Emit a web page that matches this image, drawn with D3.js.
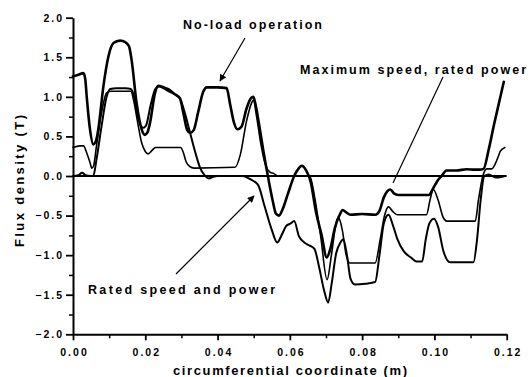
<!DOCTYPE html>
<html>
<head>
<meta charset="utf-8">
<script src="https://cdn.jsdelivr.net/npm/d3@7"></script>
<style>
  html, body { margin: 0; padding: 0; background: #fff; }
  svg { display: block; }
  text { font-family: 'Liberation Sans', Arial, sans-serif; fill: #000; }
</style>
</head>
<body>
<script>
// Axis ticks
const xTicks = [0, 0.02, 0.04, 0.06, 0.08, 0.10, 0.12]
const xMinorTicks = [0.01, 0.03, 0.05, 0.07, 0.09, 0.11]
const yTicks = [-2.0, -1.5, -1.0, -0.5, 0.0, 0.5, 1.0, 1.5, 2.0]
const yMinorTicks = [-1.75, -1.25, -0.75, -0.25, 0.25, 0.75, 1.25, 1.75]

// Traces: [circumferential coordinate (m), flux density (T)]
// thick trace (no-load)
const traceA = [[0, 1.26], [0.0015, 1.28], [0.0029, 1.30], [0.0034, 1.22], [0.0038, 1.0], [0.0047, 0.59], [0.0056, 0.40], [0.0064, 0.45], [0.0070, 0.59], [0.0084, 1.13], [0.0098, 1.51], [0.0112, 1.68], [0.0130, 1.71], [0.0145, 1.69], [0.0155, 1.64], [0.0162, 1.47], [0.0176, 0.92], [0.0190, 0.59], [0.0199, 0.52], [0.0206, 0.55], [0.0213, 0.67], [0.0227, 1.05], [0.0236, 1.14], [0.0250, 1.12], [0.0262, 1.10], [0.0280, 1.04], [0.0296, 0.98], [0.0306, 0.78], [0.0316, 0.58], [0.0324, 0.545], [0.0334, 0.58], [0.0346, 0.8], [0.0360, 1.06], [0.0370, 1.12], [0.0400, 1.12], [0.0425, 1.11], [0.0435, 0.9], [0.0445, 0.68], [0.0455, 0.59], [0.0466, 0.62], [0.0480, 0.85], [0.0492, 0.98], [0.0499, 1.0], [0.0506, 0.88], [0.0516, 0.62], [0.0527, 0.31], [0.0540, -0.02], [0.0552, -0.3], [0.0562, -0.48], [0.0570, -0.50], [0.0580, -0.42], [0.0595, -0.22], [0.0612, 0.0], [0.0625, 0.1], [0.0633, 0.13], [0.0645, 0.07], [0.0658, -0.08], [0.0672, -0.45], [0.0688, -0.75], [0.0702, -1.03], [0.0712, -0.92], [0.0725, -0.65], [0.0737, -0.5], [0.0746, -0.43], [0.0756, -0.46], [0.0768, -0.49], [0.0800, -0.48], [0.0836, -0.49], [0.0848, -0.44], [0.0860, -0.27], [0.0870, -0.19], [0.0878, -0.17], [0.0888, -0.22], [0.0900, -0.24], [0.0950, -0.24], [0.0985, -0.24], [0.0996, -0.16], [0.1010, -0.05], [0.1020, 0.0], [0.1033, 0.07], [0.1060, 0.07], [0.1090, 0.085], [0.1110, 0.08], [0.1125, 0.08], [0.1136, 0.09], [0.1150, 0.33], [0.1165, 0.65], [0.1180, 0.95], [0.1192, 1.19]]

// trace that lies on the zero line near 0.04 m, then dips deepest
const traceB = [[0, 0.0], [0.0015, 0.01], [0.0025, 0.04], [0.0035, 0.01], [0.0048, 0.0], [0.0056, 0.0], [0.0065, 0.21], [0.0079, 0.63], [0.0093, 1.0], [0.0103, 1.1], [0.0120, 1.11], [0.0145, 1.11], [0.0160, 1.10], [0.0168, 1.02], [0.0178, 0.78], [0.0188, 0.63], [0.0195, 0.61], [0.0203, 0.65], [0.0215, 0.9], [0.0228, 1.1], [0.0238, 1.13], [0.0250, 1.11], [0.0265, 1.07], [0.0285, 1.02], [0.0296, 0.98], [0.0308, 0.82], [0.0322, 0.58], [0.0337, 0.32], [0.0352, 0.1], [0.0364, 0.01], [0.0376, -0.03], [0.0388, -0.01], [0.0400, 0.0], [0.0470, 0.0], [0.0482, -0.02], [0.0494, -0.05], [0.0505, -0.08], [0.0513, -0.12], [0.0530, -0.38], [0.0550, -0.68], [0.0565, -0.84], [0.0578, -0.74], [0.0590, -0.63], [0.0602, -0.6], [0.0612, -0.57], [0.0625, -0.76], [0.0640, -0.84], [0.0655, -0.88], [0.0668, -0.92], [0.0680, -1.13], [0.0695, -1.45], [0.0706, -1.6], [0.0716, -1.35], [0.0728, -0.98], [0.0740, -0.84], [0.0748, -0.8], [0.0758, -1.0], [0.0768, -1.3], [0.0780, -1.37], [0.0810, -1.36], [0.0836, -1.34], [0.0848, -1.0], [0.0860, -0.6], [0.0873, -0.49], [0.0885, -0.62], [0.0897, -0.79], [0.0915, -0.95], [0.0935, -1.03], [0.0951, -1.08], [0.0966, -1.08], [0.0976, -0.8], [0.0986, -0.6], [0.0999, -0.54], [0.1010, -0.64], [0.1025, -0.95], [0.1043, -1.09], [0.1108, -1.09], [0.1118, -0.8], [0.1128, -0.3], [0.1138, 0.0], [0.1150, 0.02], [0.1170, -0.02], [0.1195, 0.0]]

// trace with the low 0.1 T plateau
const traceC = [[0, 0.36], [0.0019, 0.38], [0.0029, 0.38], [0.0038, 0.29], [0.0047, 0.17], [0.0052, 0.1], [0.0057, 0.13], [0.0065, 0.38], [0.0079, 0.8], [0.0093, 1.05], [0.0105, 1.07], [0.0160, 1.07], [0.0168, 0.95], [0.0178, 0.7], [0.0190, 0.42], [0.0200, 0.31], [0.0208, 0.28], [0.0218, 0.32], [0.0228, 0.36], [0.0298, 0.36], [0.0305, 0.3], [0.0313, 0.18], [0.0323, 0.12], [0.0335, 0.1], [0.0448, 0.11], [0.0463, 0.27], [0.0480, 0.69], [0.0494, 0.92], [0.0499, 0.96], [0.0508, 0.75], [0.0520, 0.4], [0.0532, 0.15], [0.0545, 0.05], [0.0556, 0.03], [0.0566, 0.0], [0.0655, 0.0], [0.0668, -0.25], [0.0685, -0.75], [0.0703, -1.31], [0.0715, -1.0], [0.0727, -0.62], [0.0734, -0.52], [0.0745, -0.68], [0.0756, -1.0], [0.0766, -1.1], [0.0836, -1.1], [0.0850, -0.8], [0.0862, -0.5], [0.0873, -0.39], [0.0885, -0.45], [0.0897, -0.49], [0.0978, -0.49], [0.0988, -0.3], [0.0997, -0.17], [0.1010, -0.3], [0.1024, -0.52], [0.1034, -0.57], [0.1113, -0.57], [0.1122, -0.3], [0.1134, 0.0], [0.1145, 0.09], [0.1159, 0.09], [0.1168, 0.15], [0.1177, 0.25], [0.1182, 0.31], [0.1195, 0.36]]

const xTitle = 'circumferential coordinate (m)'
const yTitle = 'Flux density (T)'

const width = 532
const height = 377
const margins = { left: 73, right: 25.3, top: 17.7, bottom: 42.7 }

const xScale = d3.scaleLinear()
  .domain([0, 0.12])
  .range([margins.left, width - margins.right])

const yScale = d3.scaleLinear()
  .domain([-2, 2])
  .range([height - margins.bottom, margins.top])

const svg = d3.select('body').append('svg')
  .attr('width', width)
  .attr('height', height)
  .attr('viewBox', [0, 0, width, height].join(' '))

// arrow head marker
svg.append('defs').append('marker')
  .attr('id', 'head')
  .attr('viewBox', '0 0 10 10')
  .attr('refX', 9)
  .attr('refY', 5)
  .attr('markerWidth', 9)
  .attr('markerHeight', 7)
  .attr('markerUnits', 'userSpaceOnUse')
  .attr('orient', 'auto')
  .append('path')
  .attr('d', 'M0,0 L10,5 L0,10 Z')
  .attr('fill', '#000')

const styleAxis = (g) => {
  g.select('.domain').attr('stroke', '#000').attr('stroke-width', 2)
  g.selectAll('.tick line').attr('stroke', '#000').attr('stroke-width', 1.8)
  g.selectAll('.tick text')
    .style('font-size', '10.5px')
    .style('font-weight', 'bold')
    .style('letter-spacing', '2px')
}

// Y axis
svg.append('g')
  .attr('transform', `translate(${margins.left}, 0)`)
  .call(d3.axisLeft(yScale).tickValues(yMinorTicks).tickSize(4).tickFormat(''))
  .call(g => g.select('.domain').remove())
  .call(g => g.selectAll('line').attr('stroke', '#000').attr('stroke-width', 1.5))

svg.append('g')
  .attr('transform', `translate(${margins.left}, 0)`)
  .call(d3.axisLeft(yScale).tickValues(yTicks).tickSize(7).tickSizeOuter(0).tickPadding(2).tickFormat(d3.format('.1f')))
  .call(styleAxis)

// X axis
svg.append('g')
  .attr('transform', `translate(0, ${yScale(-2)})`)
  .call(d3.axisBottom(xScale).tickValues(xMinorTicks).tickSize(4).tickFormat(''))
  .call(g => g.select('.domain').remove())
  .call(g => g.selectAll('line').attr('stroke', '#000').attr('stroke-width', 1.5))

svg.append('g')
  .attr('transform', `translate(0, ${yScale(-2)})`)
  .call(d3.axisBottom(xScale).tickValues(xTicks).tickSize(6).tickSizeOuter(0).tickPadding(8).tickFormat(d3.format('.2f')))
  .call(styleAxis)
  .call(g => g.selectAll('.tick text').attr('dx', '1px'))

// zero line
svg.append('line')
  .attr('x1', xScale(0))
  .attr('x2', xScale(0.12))
  .attr('y1', yScale(0))
  .attr('y2', yScale(0))
  .attr('stroke', '#000')
  .attr('stroke-width', 2)

// traces
const line = d3.line()
  .x(d => xScale(d[0]))
  .y(d => yScale(d[1]))
  .curve(d3.curveMonotoneX)

const traces = [
  { data: traceC, width: 1.6 },
  { data: traceB, width: 2.0 },
  { data: traceA, width: 2.6 }
]

traces.forEach(t => {
  svg.append('path')
    .datum(t.data)
    .attr('d', line)
    .attr('fill', 'none')
    .attr('stroke', '#000')
    .attr('stroke-width', t.width)
    .attr('stroke-linejoin', 'round')
    .attr('stroke-linecap', 'round')
})

// annotations
const annotate = (label, x, y, len) => svg.append('text')
  .attr('x', x)
  .attr('y', y)
  .attr('textLength', len)
  .attr('lengthAdjust', 'spacing')
  .style('font-size', '12.5px')
  .style('font-weight', 'bold')
  .text(label)

annotate('No-load operation', 183, 29, 139)
annotate('Maximum speed, rated power', 300, 74, 226)
annotate('Rated speed and power', 88, 294, 187)

svg.append('line')
  .attr('x1', 245).attr('y1', 38)
  .attr('x2', 220).attr('y2', 81)
  .attr('stroke', '#000').attr('stroke-width', 1.2)
  .attr('marker-end', 'url(#head)')

svg.append('line')
  .attr('x1', 443).attr('y1', 77)
  .attr('x2', 393).attr('y2', 183)
  .attr('stroke', '#000').attr('stroke-width', 1.2)

svg.append('line')
  .attr('x1', 176).attr('y1', 274)
  .attr('x2', 254).attr('y2', 196)
  .attr('stroke', '#000').attr('stroke-width', 1.2)
  .attr('marker-end', 'url(#head)')

// axis titles
svg.append('text')
  .attr('x', 173)
  .attr('y', 375)
  .attr('textLength', 234)
  .attr('lengthAdjust', 'spacing')
  .style('font-size', '13px')
  .style('font-weight', 'bold')
  .text(xTitle)

svg.append('text')
  .attr('transform', 'translate(24, 247) rotate(-90)')
  .attr('textLength', 132)
  .attr('lengthAdjust', 'spacing')
  .style('font-size', '13px')
  .style('font-weight', 'bold')
  .text(yTitle)
</script>
</body>
</html>
